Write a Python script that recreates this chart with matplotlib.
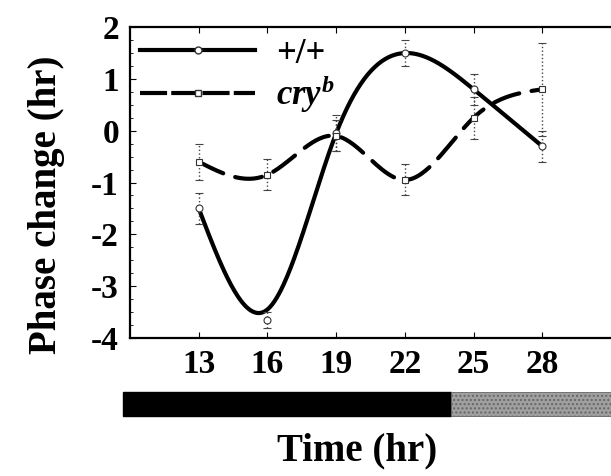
import numpy as np
import matplotlib
matplotlib.use("Agg")
import matplotlib.pyplot as plt
from matplotlib.lines import Line2D
from matplotlib.transforms import blended_transform_factory

# data
hours = [13, 16, 19, 22, 25, 28]
wt_phase = [-1.5, -3.65, -0.05, 1.5, 0.8, -0.3]
wt_err = [0.3, 0.15, 0.35, 0.25, 0.3, 0.3]
cry_phase = [-0.6, -0.85, -0.1, -0.95, 0.25, 0.8]
cry_err = [0.35, 0.3, 0.3, 0.3, 0.4, 0.9]

# smoothed fit curves, as drawn through the points (read at the same hours)
wt_fit = [-1.5, -3.45, -0.05, 1.5, 0.8, -0.3]
cry_fit = [-0.6, -0.85, -0.1, -0.95, 0.25, 0.8]

# light/dark bar: dark until 24 h, light afterwards
dark_span = (9.7, 24.0)
light_span = (24.0, 31.0)

SERIF = ["Liberation Serif", "DejaVu Serif"]


def natural_spline(x, y, xs):
    x = np.asarray(x, float); y = np.asarray(y, float)
    n = len(x)
    h = np.diff(x)
    A = np.zeros((n, n)); b = np.zeros(n)
    A[0, 0] = A[-1, -1] = 1.0
    for i in range(1, n - 1):
        A[i, i - 1] = h[i - 1]
        A[i, i] = 2 * (h[i - 1] + h[i])
        A[i, i + 1] = h[i]
        b[i] = 6 * ((y[i + 1] - y[i]) / h[i] - (y[i] - y[i - 1]) / h[i - 1])
    M = np.linalg.solve(A, b)
    idx = np.clip(np.searchsorted(x, xs) - 1, 0, n - 2)
    x0, x1 = x[idx], x[idx + 1]
    hh = x1 - x0
    t0, t1 = x1 - xs, xs - x0
    return (M[idx] * t0**3 / (6 * hh) + M[idx + 1] * t1**3 / (6 * hh)
            + (y[idx] / hh - M[idx] * hh / 6) * t0
            + (y[idx + 1] / hh - M[idx + 1] * hh / 6) * t1)


plt.rcParams['font.family'] = SERIF
plt.rcParams['font.weight'] = 'bold'
plt.rcParams['axes.unicode_minus'] = False
plt.rcParams['mathtext.fontset'] = 'custom'
plt.rcParams['mathtext.it'] = 'Liberation Serif:italic:bold'
plt.rcParams['mathtext.rm'] = 'Liberation Serif:bold'

fig = plt.figure(figsize=(6.11, 4.76), dpi=100)
ax = fig.add_axes([0.2128, 0.290, 0.7872, 0.653])

xs = np.linspace(hours[0], hours[-1], 300)
ax.plot(xs, natural_spline(hours, wt_fit, xs), color='black', lw=3.0,
        solid_capstyle='round')
ax.plot(xs, natural_spline(hours, cry_fit, xs), color='black', lw=3.0,
        dashes=(6.5, 3.0), dash_capstyle='round')

for ys, es, mk in [(wt_phase, wt_err, 'o'), (cry_phase, cry_err, 's')]:
    eb = ax.errorbar(hours, ys, yerr=es, fmt=mk, ms=5, mfc='white',
                     mec='#333333', mew=0.8, ecolor='#444444',
                     elinewidth=1.0, capsize=3, capthick=0.8, zorder=3)
    eb[2][0].set_linestyle(':')

ax.set_xlim(10, 31)
ax.set_ylim(-4, 2)
ax.set_xticks(hours)
ax.set_yticks(range(-4, 3))
ax.set_yticks(np.arange(-4, 2.01, 0.25), minor=True)
ax.tick_params(axis='both', which='major', direction='in', labelsize=24,
               length=4, width=0.8, top=True)
ax.tick_params(axis='y', which='minor', direction='in', length=2, width=0.6)
ax.tick_params(axis='x', pad=8)
ax.tick_params(axis='y', pad=8)
ax.spines['right'].set_visible(False)
for s in ['left', 'top', 'bottom']:
    ax.spines[s].set_linewidth(1.6)

ax.set_ylabel('Phase change (hr)', fontsize=28, fontweight='bold')
ax.yaxis.set_label_coords(-0.135, 0.43)

handles = [
    Line2D([], [], color='black', lw=3.0, marker='o', ms=5, mfc='white', mec='#333333'),
    Line2D([], [], color='black', lw=3.0, dashes=(6.5, 1.0), marker='s', ms=5,
           mfc='white', mec='#333333'),
]
ax.legend(handles, ['+/+', r'$cry^b$'], loc='upper left', frameon=False,
          handlelength=3.3, handletextpad=0.6, labelspacing=0.1,
          borderaxespad=0.0, borderpad=0.3,
          prop={'family': SERIF, 'weight': 'bold', 'size': 25})

# light/dark bar under the time axis
trans = blended_transform_factory(ax.transData, ax.transAxes)
ax.add_patch(plt.Rectangle((dark_span[0], -0.251), dark_span[1] - dark_span[0], 0.077,
                           transform=trans, facecolor='black', edgecolor='black',
                           clip_on=False))
ax.add_patch(plt.Rectangle((light_span[0], -0.251), light_span[1] - light_span[0], 0.077,
                           transform=trans, facecolor='#a0a0a0', edgecolor='#666666',
                           hatch='....', lw=0.6, clip_on=False))

fig.text(0.585, 0.052, 'Time (hr)', ha='center', va='center',
         fontsize=28, fontweight='bold')

fig.savefig('out.png', dpi=100)
